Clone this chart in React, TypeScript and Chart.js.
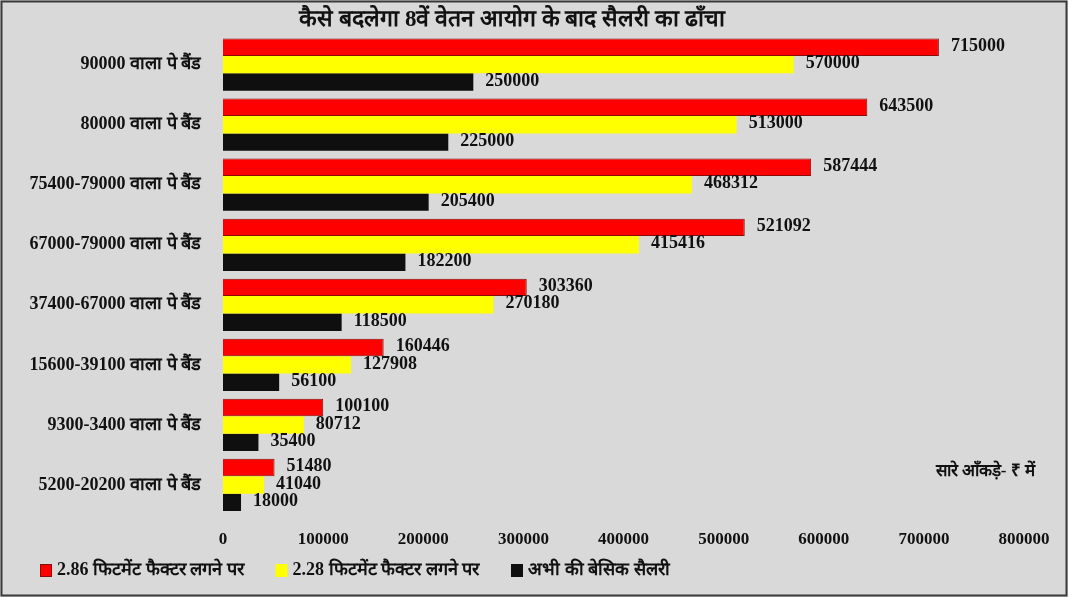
import React, { useEffect, useRef } from "react";
import { Chart, registerables } from "chart.js";

Chart.register(...registerables);

const categories = [
  "90000 वाला पे बैंड",
  "80000 वाला पे बैंड",
  "75400-79000 वाला पे बैंड",
  "67000-79000 वाला पे बैंड",
  "37400-67000 वाला पे बैंड",
  "15600-39100 वाला पे बैंड",
  "9300-3400 वाला पे बैंड",
  "5200-20200 वाला पे बैंड",
];
const fitment286 = [715000, 643500, 587444, 521092, 303360, 160446, 100100, 51480];
const fitment228 = [570000, 513000, 468312, 415416, 270180, 127908, 80712, 41040];
const basicSalary = [250000, 225000, 205400, 182200, 118500, 56100, 35400, 18000];
const seriesLabels = [
  "2.86 फिटमेंट फैक्टर लगने पर",
  "2.28 फिटमेंट फैक्टर लगने पर",
  "अभी की बेसिक सैलरी",
];
const titleText = "कैसे बदलेगा 8वें वेतन आयोग के बाद सैलरी का ढाँचा";
const noteText = "सारे आँकड़े- ₹ में";
const xMax = 800000;
const xStep = 100000;

const FONT = "'Liberation Serif', 'Times New Roman', serif";

export default function App() {
  const ref = useRef<HTMLCanvasElement | null>(null);

  useEffect(() => {
    document.body.style.margin = "0";
    const canvas = ref.current;
    if (!canvas) return;

    const bgPlugin = {
      id: "bgBorder",
      beforeDraw(chart: any) {
        const { ctx, width, height } = chart;
        ctx.save();
        ctx.fillStyle = "#d9d9d9";
        ctx.fillRect(0, 0, width, height);
        ctx.strokeStyle = "#3a3a3a";
        ctx.lineWidth = 2;
        ctx.strokeRect(1.5, 1.5, width - 3, height - 3);
        ctx.restore();
      },
    };

    const valueLabels = {
      id: "valueLabels",
      afterDatasetsDraw(chart: any) {
        const { ctx } = chart;
        ctx.save();
        ctx.font = `bold 18px ${FONT}`;
        ctx.fillStyle = "#111";
        ctx.textAlign = "left";
        ctx.textBaseline = "middle";
        chart.data.datasets.forEach((ds: any, di: number) => {
          const meta = chart.getDatasetMeta(di);
          meta.data.forEach((el: any, i: number) => {
            ctx.fillText(String(ds.data[i]), el.x + 12, el.y - 1);
          });
        });
        ctx.restore();
      },
    };

    const notePlugin = {
      id: "note",
      afterDraw(chart: any) {
        const { ctx, chartArea } = chart;
        const yScale = chart.scales.y;
        ctx.save();
        ctx.font = `bold 17px ${FONT}`;
        ctx.fillStyle = "#111";
        ctx.textAlign = "right";
        ctx.textBaseline = "middle";
        const y = yScale.getPixelForValue(categories.length - 1) - 13;
        ctx.fillText(noteText, chartArea.right + 11, y);
        ctx.restore();
      },
    };

    const legendPlugin = {
      id: "customLegend",
      afterDraw(chart: any) {
        const { ctx } = chart;
        ctx.save();
        ctx.font = `bold 18px ${FONT}`;
        ctx.textBaseline = "middle";
        ctx.textAlign = "left";
        let x = 40;
        const y = 570;
        chart.data.datasets.forEach((ds: any) => {
          ctx.fillStyle = ds.backgroundColor;
          ctx.fillRect(x, y - 6, 12, 13);
          if (ds.borderWidth) {
            ctx.strokeStyle = ds.borderColor;
            ctx.lineWidth = 1;
            ctx.strokeRect(x + 0.5, y - 5.5, 11, 12);
          }
          ctx.fillStyle = "#111";
          ctx.fillText(ds.label, x + 17, y);
          x += 17 + ctx.measureText(ds.label).width + 32;
        });
        ctx.restore();
      },
    };

    const chart = new Chart(canvas, {
      type: "bar",
      data: {
        labels: categories,
        datasets: [
          {
            label: seriesLabels[0],
            data: fitment286,
            backgroundColor: "#ff0000",
            borderColor: "#8b0a0a",
            borderWidth: 1,
          },
          {
            label: seriesLabels[1],
            data: fitment228,
            backgroundColor: "#ffff00",
            borderWidth: 0,
          },
          {
            label: seriesLabels[2],
            data: basicSalary,
            backgroundColor: "#0f0f0f",
            borderWidth: 0,
          },
        ],
      },
      options: {
        indexAxis: "y",
        animation: false,
        responsive: false,
        maintainAspectRatio: false,
        layout: { padding: { left: 0, right: 44, top: 0, bottom: 42 } },
        datasets: {
          bar: { categoryPercentage: 0.87, barPercentage: 1 },
        },
        scales: {
          x: {
            min: 0,
            max: xMax,
            grid: { display: false, drawTicks: false },
            border: { display: false },
            ticks: {
              stepSize: xStep,
              padding: 14,
              color: "#111",
              font: { family: FONT, size: 17, weight: "bold" },
              callback: (v: any) => String(v),
            },
            afterFit(scale: any) {
              scale.height = 40;
            },
          },
          y: {
            grid: { display: false, drawTicks: false },
            border: { display: false },
            ticks: {
              padding: 22,
              color: "#111",
              font: { family: FONT, size: 18, weight: "bold" },
            },
            afterFit(scale: any) {
              scale.width = 223;
            },
          },
        },
        plugins: {
          legend: { display: false },
          tooltip: { enabled: false },
          title: {
            display: true,
            text: titleText,
            color: "#111",
            font: { family: FONT, size: 23, weight: "bold" },
            padding: { top: 6, bottom: 1 },
          },
        },
      },
      plugins: [bgPlugin, valueLabels, notePlugin, legendPlugin],
    } as any);

    return () => chart.destroy();
  }, []);

  return (
    <div style={{ width: 1068, height: 597 }}>
      <canvas ref={ref} width={1068} height={597} style={{ display: "block" }} />
    </div>
  );
}
